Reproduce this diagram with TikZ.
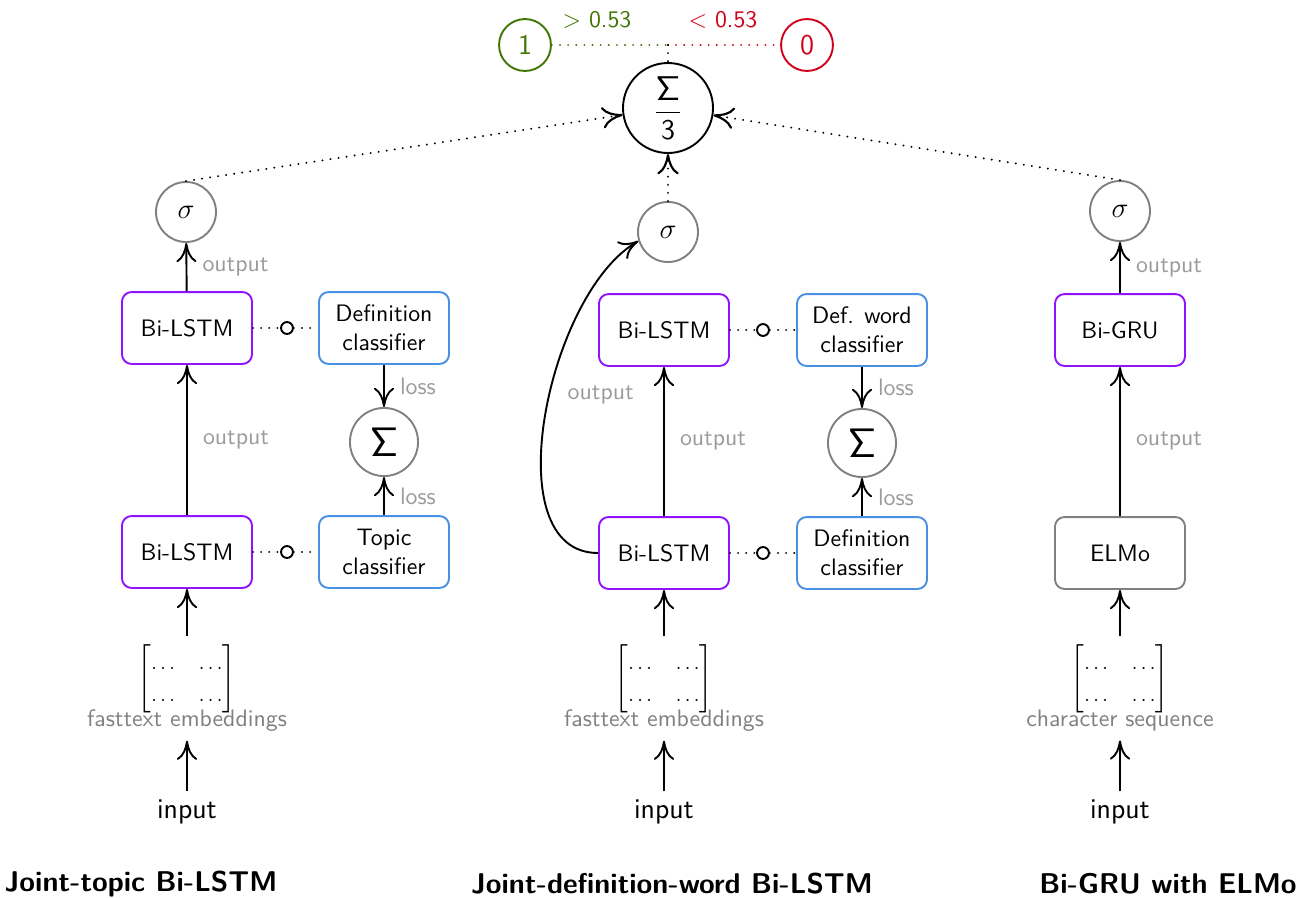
\documentclass[tikz,border=0pt]{standalone}
\usepackage{amsmath}
\usetikzlibrary{arrows.meta}
\renewcommand{\familydefault}{\sfdefault}

\definecolor{netpurple}{HTML}{9013FE}
\definecolor{netblue}{HTML}{4A90E2}
\definecolor{netgreen}{HTML}{417505}
\definecolor{netred}{HTML}{D0021B}
\definecolor{netgray}{HTML}{808080}
\definecolor{lblgray}{HTML}{9B9B9B}

\begin{document}
\begin{tikzpicture}[x=0.42pt,y=-0.42pt,
    layer/.style={draw=netpurple,line width=0.8pt,rounded corners=4pt,
      minimum width=54.6pt,minimum height=30.2pt,align=center,inner sep=2pt},
    clf/.style={layer,draw=netblue},
    emb/.style={layer,draw=netgray},
    act/.style={circle,draw=netgray,line width=0.8pt,minimum size=25.2pt,inner sep=0pt,font=\large},
    acc/.style={act,minimum size=28.6pt,font=\LARGE},
    vote/.style={circle,line width=0.8pt,minimum size=21.8pt,inner sep=0pt,font=\large},
    tap/.style={circle,draw,line width=0.8pt,minimum size=5pt,inner sep=0pt},
    flow/.style={-{To[scale length=2.4,scale width=1.2]},line width=0.8pt},
    dots/.style={line width=0.9pt,dash pattern=on 0.01pt off 3.4pt,line cap=round},
    lbl/.style={text=lblgray}]
  \useasboundingbox (0,0) rectangle (1301,898);

  % voting on top
  \node[circle,draw,line width=0.8pt,minimum size=37.8pt,inner sep=0pt,font=\large] (avg) at (668,108)
    {$\dfrac{\mbox{\Large$\mathsf{\Sigma}$}}{\mathsf{3}}$};
  \node[vote,draw=netgreen,text=netgreen] (one) at (525,45) {1};
  \node[vote,draw=netred,text=netred] (zero) at (807,45) {0};
  \coordinate (split) at (668,45);
  \draw[dots,netgreen] (one) -- (split);
  \draw[dots,netred] (split) -- (zero);
  \draw[dots] (split) -- (avg);
  \node[text=netgreen] (gt) at (597,20) {$>$ 0.53};
  \node[text=netred] (lt) at (723,20) {$<$ 0.53};

  % joint-topic
  \node[act] (sig1) at (186,212) {$\sigma$};
  \node[layer] (lstm1b) at (187,328) {Bi-LSTM};
  \node[clf] (defc1) at (384,328) {Definition\\classifier};
  \node[acc] (add1) at (384,442) {$\mathsf{\Sigma}$};
  \node[clf] (topc1) at (384,552) {Topic\\classifier};
  \node[layer] (lstm1a) at (187,552) {Bi-LSTM};
  \node[tap] (j1b) at (287,328) {};
  \node[tap] (j1a) at (287,552) {};

  % joint-definition-word
  \node[act] (sig2) at (668,232) {$\sigma$};
  \node[layer] (lstm2b) at (664,330) {Bi-LSTM};
  \node[clf] (defw2) at (862,330) {Def. word\\classifier};
  \node[acc] (add2) at (862,443) {$\mathsf{\Sigma}$};
  \node[clf] (defc2) at (862,553) {Definition\\classifier};
  \node[layer] (lstm2a) at (664,553) {Bi-LSTM};
  \node[tap] (j2b) at (763,330) {};
  \node[tap] (j2a) at (763,553) {};

  % bi-gru
  \node[act] (sig3) at (1120,211) {$\sigma$};
  \node[layer] (gru3) at (1120,330) {Bi-GRU};
  \node[emb] (elmo3) at (1120,553) {ELMo};

  \foreach \i/\x/\src/\name/\tx/\title in {1/187/lstm1a/fasttext embeddings/141/Joint-topic Bi-LSTM,
      2/664/lstm2a/fasttext embeddings/672/Joint-definition-word Bi-LSTM,
      3/1120/elmo3/character sequence/1168/Bi-GRU with ELMo} {
    \node (vec\i) at (\x,679) {\footnotesize\renewcommand{\arraystretch}{1.45}%
      $\begin{bmatrix}\ldots&\ldots\\\ldots&\ldots\end{bmatrix}$};
    \node[text=netgray,inner sep=1pt] (src\i) at (\x,721) {\name};
    \node[font=\large] (in\i) at (\x,812) {input};
    \node[font=\large\bfseries] (title\i) at (\tx,884) {\title};
    \draw[flow] (in\i) -- ([yshift=-2.5pt]src\i.south);
    \draw[flow] (vec\i) -- (\src);
  }

  \draw[flow] (lstm1b) -- node[lbl,right=3pt] {output} (sig1);
  \draw[flow] (lstm1a) -- node[lbl,right=3pt] {output} (lstm1b);
  \draw[flow] (defc1) -- node[lbl,right=3pt] {loss} (add1);
  \draw[flow] (topc1) -- node[lbl,right=3pt] {loss} (add1);
  \draw[dots] (lstm1b) -- (j1b) -- (defc1);
  \draw[dots] (lstm1a) -- (j1a) -- (topc1);

  \draw[flow] (lstm2a.west) to[out=180,in=210,looseness=0.85] node[lbl,pos=0.55,right=4pt] {output} (sig2.197);
  \draw[flow] (lstm2a) -- node[lbl,right=3pt] {output} (lstm2b);
  \draw[flow] (defw2) -- node[lbl,right=3pt] {loss} (add2);
  \draw[flow] (defc2) -- node[lbl,right=3pt] {loss} (add2);
  \draw[dots] (lstm2b) -- (j2b) -- (defw2);
  \draw[dots] (lstm2a) -- (j2a) -- (defc2);

  \draw[flow] (gru3) -- node[lbl,right=3pt] {output} (sig3);
  \draw[flow] (elmo3) -- node[lbl,right=3pt] {output} (gru3);

  \draw[flow,dots] (sig1.north) -- (avg);
  \draw[flow,dots] (sig2) -- (avg);
  \draw[flow,dots] (sig3.north) -- (avg);
\end{tikzpicture}
\end{document}
